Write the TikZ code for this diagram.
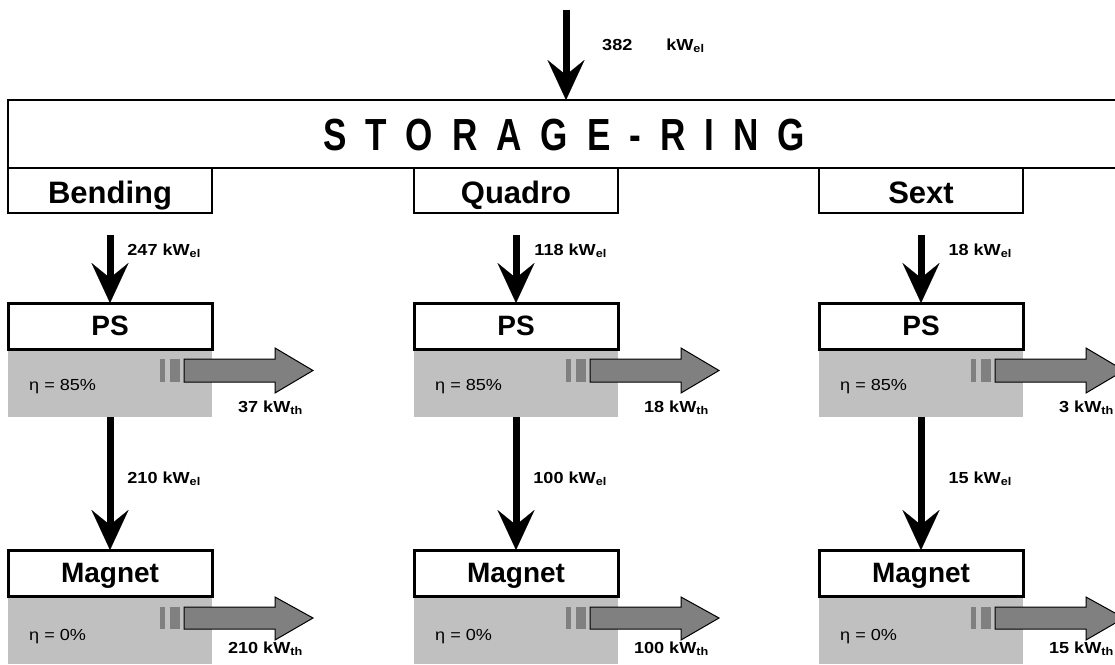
\documentclass[tikz,border=0pt]{standalone}
\usepackage{fontspec}
\setmainfont{Liberation Sans}
\newfontfamily\widesans[FakeStretch=1.13]{Liberation Sans}
\newfontfamily\narrowsans[FakeStretch=0.78]{Liberation Sans}
\usetikzlibrary{arrows.meta,calc}
\definecolor{lgray}{HTML}{C0C0C0}
\definecolor{dgray}{HTML}{808080}
\begin{document}
\begin{tikzpicture}[x=1pt,y=-1pt,
  ringbox/.style={draw, line width=1.2pt, anchor=north west, minimum width=1130pt, minimum height=68pt, inner sep=0pt, outer sep=0pt},
  titlebox/.style={draw, line width=1.2pt, anchor=north west, minimum width=204pt, minimum height=45pt, inner sep=0pt, outer sep=0pt, text height=25pt, text depth=0pt, font=\fontsize{31}{33}\selectfont\bfseries},
  unitbox/.style={draw, fill=white, line width=3pt, anchor=north west, minimum width=204pt, minimum height=46pt, inner sep=0pt, outer sep=0pt, text height=19pt, text depth=1pt, font=\fontsize{28}{30}\selectfont\bfseries},
  graybox/.style={fill=lgray, anchor=north west, minimum width=204pt, minimum height=68pt, inner sep=0pt, outer sep=0pt},
  etatext/.style={anchor=base west, inner sep=0pt, font=\widesans\fontsize{16}{18}\selectfont},
  kwtext/.style={inner sep=0pt, font=\widesans\fontsize{16}{18}\selectfont\bfseries},
  flow/.style={line width=7pt, -{Stealth[length=40pt,width=37pt,inset=15pt,line width=0.1pt]}},
  heatarrow/.style={draw=black, line width=1pt, fill=dgray},
]
\useasboundingbox (0,0) rectangle (1115,664);
\clip (0,0) rectangle (1115,664);

\node[ringbox] (ring) at (8,100) {};
\node[inner sep=0pt, font=\narrowsans\fontsize{45}{48}\selectfont\bfseries] (ringtext) at (564,135) {\spaceskip=19pt S T O R A G E - R I N G};

\coordinate (in) at (566,10);
\draw[flow] (in) -- (in |- ring.north);
\node[kwtext, anchor=base west] (inlabel) at (602,50) {382\hspace{34pt}kW\textsubscript{el}};

\foreach \i/\L/\title/\inp/\mid/\heat/\out in {
  1/8/Bending/247/210/37/210,
  2/414/Quadro/118/100/18/100,
  3/819/Sext/18/15/3/15}{
  \node[titlebox] (t\i) at (\L,168) {\title};
  % power supply
  \node[graybox] (g\i) at (\L,349) {};
  \node[unitbox] (p\i) at (\L,303) {PS};
  \node[etatext] (e\i) at (\L+21,390) {η = 85\%};
  \begin{scope}[shift={(g\i.north west)}]
    \fill[dgray] (152,10) rectangle (157,33);
    \fill[dgray] (162,10) rectangle (172,33);
    \draw[heatarrow] (176,10) -- (267,10) -- (267,-1) -- (305,21.5) -- (267,44) -- (267,33) -- (176,33) -- cycle;
  \end{scope}
  \node[kwtext, anchor=base east] (h\i) at (\L+295,412) {\heat\ kW\textsubscript{th}};
  % magnet
  \node[graybox] (gm\i) at (\L,596) {};
  \node[unitbox] (m\i) at (\L,550) {Magnet};
  \node[etatext] (em\i) at (\L+21,640) {η = 0\%};
  \begin{scope}[shift={(gm\i.north west)}]
    \fill[dgray] (152,11) rectangle (157,33);
    \fill[dgray] (162,11) rectangle (172,33);
    \draw[heatarrow] (176,11) -- (267,11) -- (267,1) -- (305,22) -- (267,44) -- (267,33) -- (176,33) -- cycle;
  \end{scope}
  \node[kwtext, anchor=base east] (hm\i) at (\L+295,653) {\out\ kW\textsubscript{th}};
  % flows
  \draw[flow, shorten <=22pt] (t\i.south) -- (p\i.north);
  \node[kwtext, anchor=base east] (a\i) at (\L+193,255) {\inp\ kW\textsubscript{el}};
  \draw[flow] (g\i.south) -- (m\i.north);
  \node[kwtext, anchor=base east] (b\i) at (\L+193,483) {\mid\ kW\textsubscript{el}};
}
\end{tikzpicture}
\end{document}
